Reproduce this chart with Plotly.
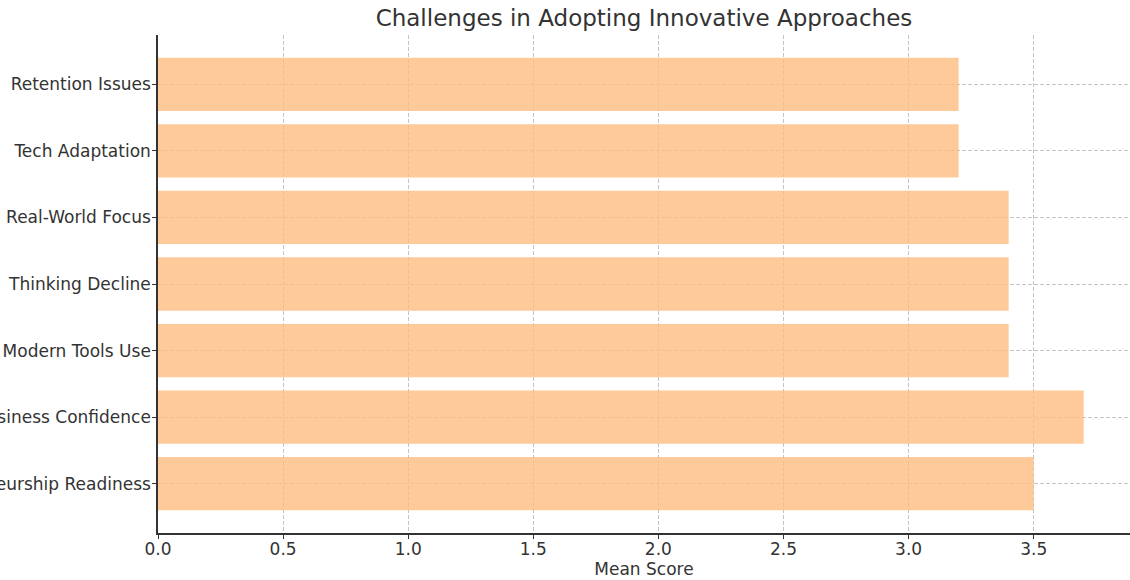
import plotly.graph_objects as go

# Survey challenges and their mean scores (bottom to top)
categories = [
    "Entrepreneurship Readiness",
    "Business Confidence",
    "Modern Tools Use",
    "Thinking Decline",
    "Real-World Focus",
    "Tech Adaptation",
    "Retention Issues",
]
mean_scores = [3.5, 3.7, 3.4, 3.4, 3.4, 3.2, 3.2]
x_ticks = [0.0, 0.5, 1.0, 1.5, 2.0, 2.5, 3.0, 3.5]

FONT = "DejaVu Sans"
TEXT = "#333333"
GRID = "#c4c4c4"

fig = go.Figure(
    go.Bar(
        x=mean_scores,
        y=categories,
        orientation="h",
        width=0.8,
        # semi-transparent fill so the dashed grid shows through the bars
        marker=dict(color="rgba(254,189,128,0.8)", line=dict(width=0)),
        hoverinfo="x+y",
    )
)

fig.update_layout(
    width=1130,
    height=580,
    margin=dict(l=158, r=0, t=35, b=47),
    paper_bgcolor="white",
    plot_bgcolor="white",
    showlegend=False,
    font=dict(family=FONT, color=TEXT, size=17),
    title=dict(
        text="Challenges in Adopting Innovative Approaches",
        x=0.5699,
        xanchor="center",
        y=0.969,
        yanchor="middle",
        font=dict(family=FONT, size=23, color=TEXT),
    ),
)

axis_common = dict(
    showgrid=True,
    gridcolor=GRID,
    griddash="4px,2px",
    gridwidth=0.8,
    showline=True,
    linecolor=TEXT,
    linewidth=1.5,
    ticks="outside",
    ticklen=4,
    tickcolor=TEXT,
    tickfont=dict(size=17, color=TEXT),
    zeroline=False,
    automargin=False,
)

fig.update_xaxes(
    range=[0, 3.885],
    tickvals=x_ticks,
    ticktext=[f"{v:.1f}" for v in x_ticks],
    ticklabelstandoff=-4,
    title=dict(text="Mean Score", font=dict(size=17, color=TEXT), standoff=4),
    **axis_common,
)

fig.update_yaxes(
    type="category",
    categoryorder="array",
    categoryarray=categories,
    range=[-0.74, 6.74],
    ticklabelstandoff=-2,
    **axis_common,
)

fig.write_html("out.html")
